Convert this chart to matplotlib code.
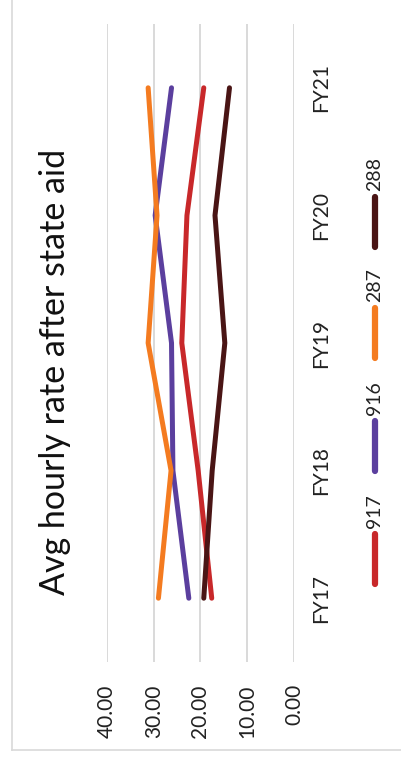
import matplotlib
matplotlib.use("Agg")
import matplotlib.pyplot as plt
from matplotlib.lines import Line2D
import numpy as np

plt.rcParams['font.family'] = ['Lato', 'DejaVu Sans']

# Fiscal years and average hourly rate (after state aid) for each program code
years = ["FY17", "FY18", "FY19", "FY20", "FY21"]
series_names = ["917", "916", "287", "288"]
rate_917 = [17.6, 20.5, 24.0, 22.9, 19.3]
rate_916 = [22.5, 25.9, 26.2, 29.7, 26.2]
rate_287 = [29.0, 26.3, 31.2, 29.3, 31.2]
rate_288 = [19.3, 17.5, 14.8, 16.9, 13.8]
value_ticks = [0, 10, 20, 30, 40]
value_tick_labels = ["0.00", "10.00", "20.00", "30.00", "40.00"]

colors = ["#C8282A", "#5B3F9E", "#F47B20", "#4A1515"]
all_rates = [rate_917, rate_916, rate_287, rate_288]

W, H = 402, 760
fig = plt.figure(figsize=(W / 100, H / 100), dpi=100)
fig.patch.set_facecolor("white")

# Chart is laid out sideways: value axis runs horizontally (0 on the right),
# categories run bottom-to-top.
ax = fig.add_axes([107 / W, 1 - 662 / H, (294 - 107) / W, (662 - 24) / H])
ax.set_facecolor("none")
pos = np.arange(len(years))
for rates, c in zip(all_rates, colors):
    ax.plot(rates, pos, color=c, lw=3.6, solid_capstyle="round",
            solid_joinstyle="round", zorder=3)

ax.set_xlim(40, 0)
ax.set_ylim(-0.5, len(years) - 0.5)
ax.set_xticks(value_ticks)
ax.set_xticklabels(value_tick_labels, rotation=90, fontsize=15,
                   color="#222222", va="top", ha="center")
ax.tick_params(axis="x", length=0, pad=16)
ax.xaxis.grid(True, color="#D9D9D9", lw=1.4)
ax.set_axisbelow(True)

ax.yaxis.tick_right()
ax.set_yticks(pos)
ax.set_yticklabels(years, rotation=90, fontsize=15, color="#222222",
                   va="center", ha="left")
ax.tick_params(axis="y", length=0, pad=12)
for s in ax.spines.values():
    s.set_visible(False)

# Title
fig.text(55 / W, 1 - 372 / H, "Avg hourly rate after state aid", rotation=90,
         fontsize=24.5, color="#111111", ha="center", va="center")

# Legend, stacked vertically on the right
leg_x = 375 / W
leg_line_centers = [559, 446, 333, 222]
for name, c, yc in zip(series_names, colors, leg_line_centers):
    y0 = 1 - (yc + 25) / H
    y1 = 1 - (yc - 25) / H
    fig.add_artist(Line2D([leg_x, leg_x], [y0, y1], color=c, lw=4.5,
                          solid_capstyle="round", transform=fig.transFigure))
    fig.text(leg_x, 1 - (yc - 48) / H, name, rotation=90, fontsize=14,
             color="#222222", ha="center", va="center")

# Outer chart border (left and bottom edges visible)
fig.add_artist(Line2D([12 / W, 12 / W], [1 - 750 / H, 1.0], color="#D9D9D9",
                      lw=1.2, transform=fig.transFigure))
fig.add_artist(Line2D([12 / W, 1.0], [1 - 750 / H, 1 - 750 / H], color="#D9D9D9",
                      lw=1.2, transform=fig.transFigure))

fig.savefig("out.png", dpi=100, facecolor="white")
